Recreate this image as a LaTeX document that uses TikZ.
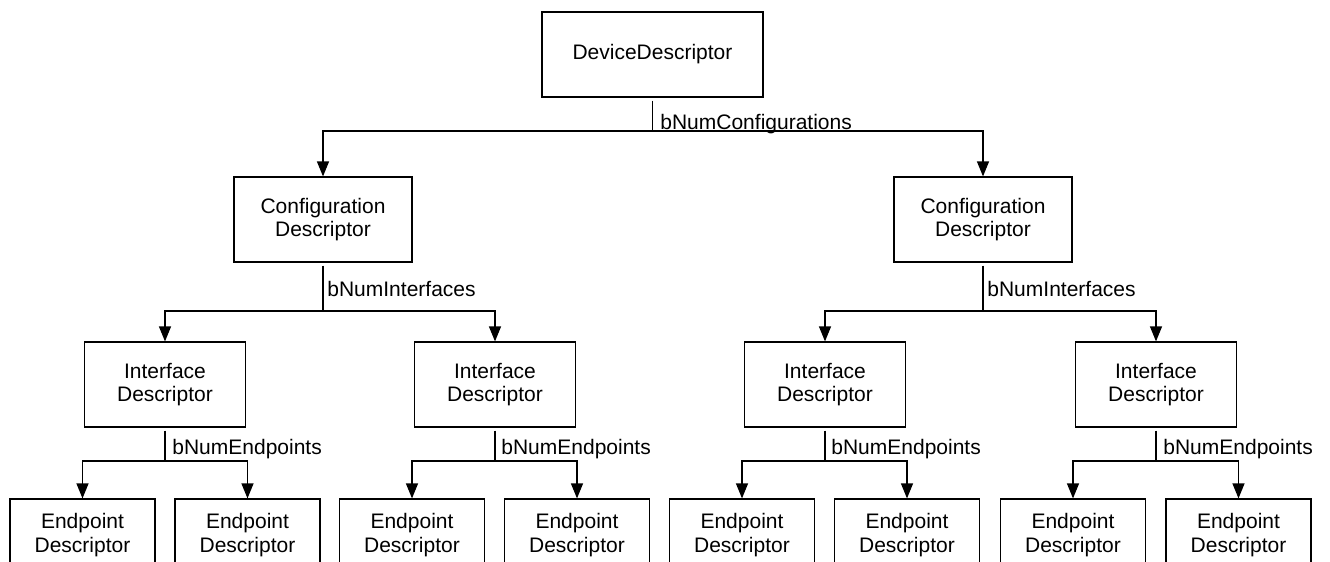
\documentclass[tikz,border=0pt]{standalone}
\usepackage{fontspec}
\setmainfont{Liberation Sans}
\usetikzlibrary{arrows.meta}

\tikzset{
  box/.style={draw, line width=0.6pt, align=center, inner sep=0pt,
    minimum height=42.5pt, font=\fontsize{10.5}{11.8}\selectfont},
  devbox/.style={box, minimum width=110.5pt},
  cfgbox/.style={box, minimum width=89pt},
  ifbox/.style={box, minimum width=80.5pt},
  epbox/.style={box, minimum width=72.5pt, minimum height=36pt},
  lbl/.style={anchor=base west, inner sep=0pt, font=\fontsize{10.5}{12}\selectfont},
  link/.style={line width=0.6pt, shorten <=1.5pt},
  arr/.style={line width=0.6pt, -{Triangle[length=7.5pt,width=6pt]}},
}

\begin{document}
\begin{tikzpicture}[x=0.5pt, y=-0.5pt]
            \useasboundingbox (0,0) rectangle (1330,562);
            \clip (0,0) rectangle (1330,562);

            \node[devbox] (dev) at (652.5,54.5) {DeviceDescriptor};

            \node[cfgbox] (cfgA) at (323,219.5) {Configuration\\Descriptor};
            \node[cfgbox] (cfgB) at (983,219.5) {Configuration\\Descriptor};

            \node[ifbox] (ifA1) at (165,384.5) {Interface\\Descriptor};
            \node[ifbox] (ifA2) at (495,384.5) {Interface\\Descriptor};
            \node[ifbox] (ifB1) at (825,384.5) {Interface\\Descriptor};
            \node[ifbox] (ifB2) at (1156,384.5) {Interface\\Descriptor};

            \node[epbox] (epA1a) at (82.5,535) {Endpoint\\Descriptor};
            \node[epbox] (epA1b) at (247.5,535) {Endpoint\\Descriptor};
            \node[epbox] (epA2a) at (412,535) {Endpoint\\Descriptor};
            \node[epbox] (epA2b) at (577,535) {Endpoint\\Descriptor};
            \node[epbox] (epB1a) at (742,535) {Endpoint\\Descriptor};
            \node[epbox] (epB1b) at (907,535) {Endpoint\\Descriptor};
            \node[epbox] (epB2a) at (1073,535) {Endpoint\\Descriptor};
            \node[epbox] (epB2b) at (1238.5,535) {Endpoint\\Descriptor};

            % branch points
            \coordinate (jDev) at (652.5,131);
            \coordinate (jCfgA) at (323,311);
            \coordinate (jCfgB) at (983,311);
            \coordinate (jIfA1) at (165,461);
            \coordinate (jIfA2) at (495,461);
            \coordinate (jIfB1) at (825,461);
            \coordinate (jIfB2) at (1156,461);

            \node[lbl] (lDev) at (660,129) {bNumConfigurations};
            \node[lbl] (lCfgA) at (327,296) {bNumInterfaces};
            \node[lbl] (lCfgB) at (987,296) {bNumInterfaces};
            \node[lbl] (lIfA1) at (172,454) {bNumEndpoints};
            \node[lbl] (lIfA2) at (501,454) {bNumEndpoints};
            \node[lbl] (lIfB1) at (831,454) {bNumEndpoints};
            \node[lbl] (lIfB2) at (1163,454) {bNumEndpoints};

            \draw[link] (dev) -- (jDev);
            \draw[arr] (jDev) -| (cfgA);
            \draw[arr] (jDev) -| (cfgB);

            \draw[link] (cfgA) -- (jCfgA);
            \draw[arr] (jCfgA) -| (ifA1);
            \draw[arr] (jCfgA) -| (ifA2);
            \draw[link] (cfgB) -- (jCfgB);
            \draw[arr] (jCfgB) -| (ifB1);
            \draw[arr] (jCfgB) -| (ifB2);

            \draw[link] (ifA1) -- (jIfA1);
            \draw[arr] (jIfA1) -| (epA1a);
            \draw[arr] (jIfA1) -| (epA1b);
            \draw[link] (ifA2) -- (jIfA2);
            \draw[arr] (jIfA2) -| (epA2a);
            \draw[arr] (jIfA2) -| (epA2b);
            \draw[link] (ifB1) -- (jIfB1);
            \draw[arr] (jIfB1) -| (epB1a);
            \draw[arr] (jIfB1) -| (epB1b);
            \draw[link] (ifB2) -- (jIfB2);
            \draw[arr] (jIfB2) -| (epB2a);
            \draw[arr] (jIfB2) -| (epB2b);
        \end{tikzpicture}
\end{document}
